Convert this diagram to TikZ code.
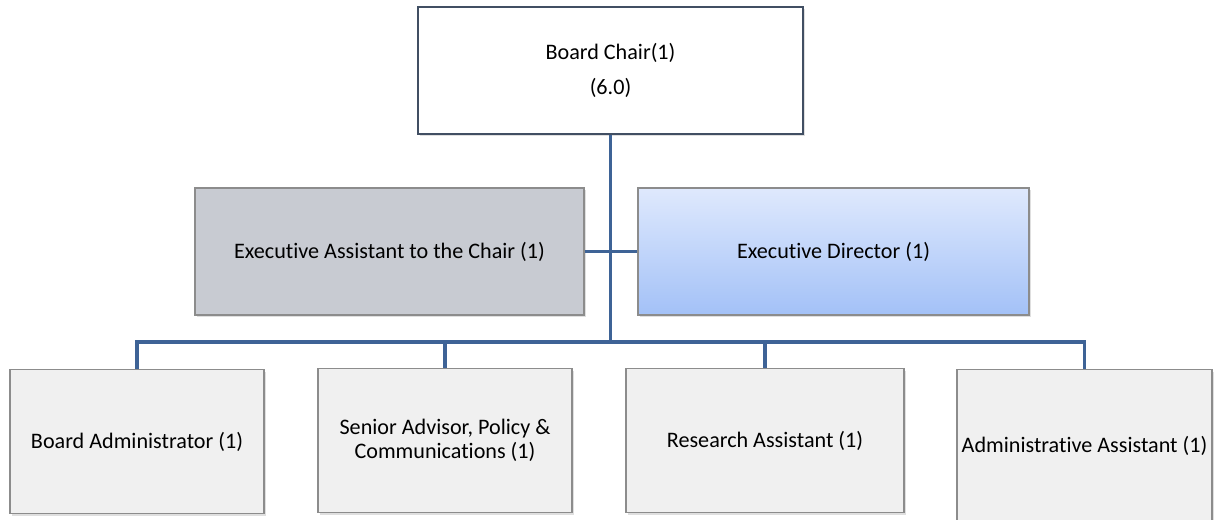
\documentclass[tikz,border=0pt]{standalone}
\usepackage{fontspec}
\setmainfont{Carlito}[Ligatures={NoCommon}]
\usepackage{xcolor}
\usepackage{tikz}
\usetikzlibrary{calc,positioning,shadows}
\definecolor{chairline}{HTML}{414F63}
\definecolor{boxline}{HTML}{8C8C8C}
\definecolor{eafill}{HTML}{C8CBD2}
\definecolor{edtop}{HTML}{DFE9FD}
\definecolor{edbot}{HTML}{A3C1F7}
\definecolor{stafffill}{HTML}{F0F0F0}
\definecolor{link}{HTML}{3E6396}
\tikzset{
  box/.style={draw=boxline, line width=0.8pt, align=center, inner sep=2pt,
    font=\fontsize{12.6}{13.8}\selectfont, text=black,
    drop shadow={opacity=0.25, shadow xshift=1.2pt, shadow yshift=-1.2pt}},
  chair/.style={box, draw=chairline, line width=1.1pt, fill=white,
    minimum width=7.7cm, minimum height=2.54cm},
  aide/.style={box, fill=eafill, minimum width=7.78cm, minimum height=2.54cm},
  director/.style={box, top color=edtop, bottom color=edbot,
    minimum width=7.82cm, minimum height=2.54cm},
  staff/.style={box, fill=stafffill, minimum width=5.08cm, minimum height=2.88cm},
  conn/.style={draw=link, line width=1.8pt},
}
\begin{document}
\begin{tikzpicture}
\useasboundingbox (0,0) rectangle (24.28,-10.4);
\clip (0,0) rectangle (24.28,-10.4);
% top
\node[chair] (bc) at (12.21,-1.41) {Board Chair(1)\\[6pt](6.0)};
% second row
\node[aide] (ea) at (7.79,-5.03) {Executive Assistant to the Chair (1)};
\node[director] (ed) at (16.67,-5.03) {Executive Director (1)};
% staff row
\node[staff] (ba) at (2.74,-8.83) {Board Administrator (1)};
\node[staff] (sa) at (8.90,-8.81) {Senior Advisor, Policy \&\\Communications (1)};
\node[staff, minimum width=5.56cm] (ra) at (15.30,-8.81) {Research Assistant (1)};
\node[staff, minimum width=5.10cm, minimum height=3.06cm] (aa) at (21.69,-8.92) {Administrative Assistant (1)};
% links
\coordinate (bus) at (12.21,-6.84);
\draw[conn] (bc.south) -- (bus);
\draw[conn] (ea.east) -- (ed.west);
\draw[conn] (ba.north) |- (bus) -| (aa.north);
\draw[conn] (sa.north) -- (sa.north |- bus);
\draw[conn] (ra.north) -- (ra.north |- bus);
\end{tikzpicture}
\end{document}
